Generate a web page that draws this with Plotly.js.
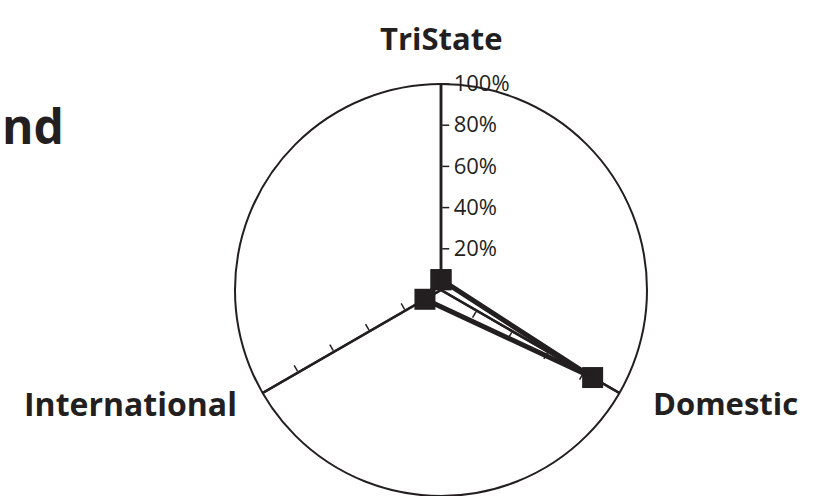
<!DOCTYPE html>
<html>
<head>
<meta charset="utf-8">
<script src="https://cdn.plot.ly/plotly-3.0.1.min.js"></script>
<style>
  html, body { margin: 0; padding: 0; background: #ffffff; overflow: hidden; }
  #chart { width: 825px; height: 496px; }
</style>
</head>
<body>
<div id="chart"></div>
<script>
// ---- data ----
const categories = ['TriState', 'Domestic', 'International'];
const shareValues = [5, 85, 9];
const radialTicks = [20, 40, 60, 80, 100];
const radialTickLabels = ['20%', '40%', '60%', '80%', '100%'];
const titleFragment = 'nd';

// ---- styling ----
const INK = '#231f20';
const W = 825, H = 496;
const cx = 441, cy = 290, R = 206;
const domX = [(cx - R) / W, (cx + R) / W];
const domY = [(H - cy - R) / H, (H - cy + R) / H];
const py = v => (H - v) / H;
const px = v => v / W;

const closedTheta = categories.concat([categories[0]]);
const closedR = shareValues.concat([shareValues[0]]);

const traces = [
  {
    type: 'scatterpolar',
    subplot: 'polar',
    theta: closedTheta,
    r: closedR,
    mode: 'lines+markers',
    line: { color: INK, width: 5 },
    marker: { symbol: 'square', size: 21, color: INK },
    showlegend: false,
    hoverinfo: 'skip'
  },
  { type: 'scatterpolar', subplot: 'polar2', r: [], theta: [], showlegend: false },
  { type: 'scatterpolar', subplot: 'polar3', r: [], theta: [], showlegend: false }
];

function spokeAxis(angleDeg) {
  return {
    domain: { x: domX, y: domY },
    bgcolor: 'rgba(0,0,0,0)',
    angularaxis: { visible: false },
    radialaxis: {
      range: [0, 100],
      angle: angleDeg,
      tickvals: radialTicks.slice(0, 4),
      showticklabels: false,
      ticks: 'outside',
      ticklen: 7,
      tickwidth: 1.5,
      tickcolor: INK,
      showline: true,
      linecolor: INK,
      linewidth: 2.5,
      showgrid: false
    }
  };
}

const layout = {
  width: W,
  height: H,
  margin: { l: 0, r: 0, t: 0, b: 0 },
  paper_bgcolor: '#ffffff',
  showlegend: false,
  font: { family: 'Open Sans, sans-serif', color: INK },
  polar: {
    domain: { x: domX, y: domY },
    bgcolor: 'rgba(0,0,0,0)',
    angularaxis: {
      type: 'category',
      categoryorder: 'array',
      categoryarray: categories,
      rotation: 90,
      direction: 'clockwise',
      showticklabels: false,
      ticks: '',
      showline: true,
      linecolor: INK,
      linewidth: 2,
      showgrid: true,
      gridcolor: INK,
      gridwidth: 2.5
    },
    radialaxis: {
      range: [0, 100],
      angle: 90,
      tickangle: 90,
      tickvals: radialTicks,
      ticktext: radialTickLabels,
      tickfont: { family: 'Open Sans, sans-serif', size: 22, color: INK },
      ticks: 'outside',
      ticklen: 7,
      tickwidth: 1.5,
      tickcolor: INK,
      showline: true,
      linecolor: INK,
      linewidth: 2.5,
      showgrid: false
    }
  },
  polar2: spokeAxis(210),
  polar3: spokeAxis(-30),
  annotations: [
    { text: '<b>' + categories[0] + '</b>', x: px(441.5), y: py(38), xref: 'paper', yref: 'paper',
      xanchor: 'center', yanchor: 'middle', showarrow: false,
      font: { family: 'Open Sans, sans-serif', size: 31, color: INK } },
    { text: '<b>' + categories[1] + '</b>', x: px(725), y: py(403), xref: 'paper', yref: 'paper',
      xanchor: 'center', yanchor: 'middle', showarrow: false,
      font: { family: 'Open Sans, sans-serif', size: 31, color: INK } },
    { text: '<b>' + categories[2] + '</b>', x: px(130.5), y: py(403), xref: 'paper', yref: 'paper',
      xanchor: 'center', yanchor: 'middle', showarrow: false,
      font: { family: 'Open Sans, sans-serif', size: 32, color: INK } },
    { text: '<b>' + titleFragment + '</b>', x: px(0), y: py(125), xref: 'paper', yref: 'paper',
      xanchor: 'left', yanchor: 'middle', showarrow: false,
      font: { family: 'Open Sans, sans-serif', size: 48, color: INK } }
  ]
};

Plotly.newPlot('chart', traces, layout, { displayModeBar: false, staticPlot: true });
</script>
</body>
</html>
